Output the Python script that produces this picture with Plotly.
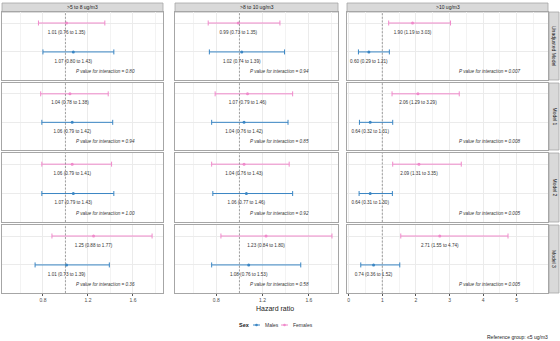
import plotly.graph_objects as go

# ---------------- data ----------------
columns = ["&gt;5 to 8 ug/m3", "&gt;8 to 10 ug/m3", "&gt;10 ug/m3"]
models = ["Unadjusted Model", "Model 1", "Model 2", "Model 3"]
sexes = ["Males", "Females"]

fem_hr = [[1.01, 1.04, 1.06, 1.25], [0.99, 1.07, 1.04, 1.23], [1.90, 2.06, 2.09, 2.71]]
fem_lo = [[0.76, 0.78, 0.79, 0.88], [0.73, 0.79, 0.76, 0.84], [1.19, 1.29, 1.31, 1.55]]
fem_hi = [[1.35, 1.38, 1.41, 1.77], [1.35, 1.46, 1.43, 1.80], [3.03, 3.29, 3.35, 4.74]]

male_hr = [[1.07, 1.06, 1.07, 1.01], [1.02, 1.04, 1.06, 1.08], [0.60, 0.64, 0.64, 0.74]]
male_lo = [[0.80, 0.79, 0.79, 0.73], [0.74, 0.76, 0.77, 0.76], [0.29, 0.32, 0.31, 0.36]]
male_hi = [[1.43, 1.42, 1.43, 1.39], [1.39, 1.42, 1.46, 1.53], [1.21, 1.31, 1.30, 1.52]]

p_vals = [["0.80", "0.94", "1.00", "0.36"],
          ["0.94", "0.85", "0.92", "0.58"],
          ["0.007", "0.008", "0.005", "0.005"]]

col_ticks = [[0.8, 1.2, 1.6], [0.8, 1.2, 1.6], [0, 1, 2, 3, 4, 5]]
col_ranges = [[0.436, 1.867], [0.443, 1.852], [-0.05, 5.93]]
col_minor = [0.2, 0.2, 0.5]

# ---------------- layout geometry (pixels) ----------------
W, H = 560, 341
col_px = [(2, 163), (175, 338), (347, 548)]
row_px = [(12, 80), (83, 150), (153, 222), (225, 293)]
MALE_C = "#3A86C4"
FEM_C = "#F08ACB"
FONT = "Liberation Sans, Arial, sans-serif"

def px_x(p):
    return p / W

def px_y(p):
    return 1 - p / H

fig = go.Figure()
layout = dict(
    width=W, height=H, margin=dict(l=0, r=0, t=0, b=0),
    paper_bgcolor="white", plot_bgcolor="white",
    font=dict(family=FONT, size=5, color="#333333"),
    showlegend=False,
)
shapes = []
annotations = []

for r in range(4):
    for c in range(3):
        k = r * 3 + c + 1
        xs = "" if k == 1 else str(k)
        xname, yname = "x" + xs, "y" + xs
        lo, hi = col_ranges[c]
        ticks = col_ticks[c]
        layout["xaxis" + xs] = dict(
            domain=[px_x(col_px[c][0]), px_x(col_px[c][1])],
            anchor=yname, range=[lo, hi],
            tickvals=ticks, ticktext=[("%g" % t) for t in ticks],
            showticklabels=(r == 3), ticks="outside" if r == 3 else "",
            ticklen=2, tickcolor="#555555", tickwidth=0.5,
            tickfont=dict(size=5, color="#4D4D4D"),
            showgrid=True, gridcolor="#EBEBEB", gridwidth=0.6,
            minor=dict(dtick=col_minor[c], tick0=0, showgrid=True, gridcolor="#F3F3F3", gridwidth=0.4),
            showline=True, mirror=True, linecolor="#A6A6A6", linewidth=0.8,
            zeroline=False, fixedrange=True,
        )
        layout["yaxis" + xs] = dict(
            domain=[px_y(row_px[r][1]), px_y(row_px[r][0])],
            anchor=xname, range=[0.03, 2.38],
            tickvals=[1, 2], showticklabels=False, ticks="",
            showgrid=True, gridcolor="#EBEBEB", gridwidth=0.6,
            showline=True, mirror=True, linecolor="#A6A6A6", linewidth=0.8,
            zeroline=False, fixedrange=True,
        )
        # reference line at HR = 1
        shapes.append(dict(type="line", xref=xname, yref=yname + " domain",
                           x0=1, x1=1, y0=0, y1=1,
                           line=dict(color="#666666", width=0.6, dash="2px,1.6px")))
        for sex, hr, lo_, hi_, yv, col in (
            ("Females", fem_hr, fem_lo, fem_hi, 2, FEM_C),
            ("Males", male_hr, male_lo, male_hi, 1, MALE_C),
        ):
            e = hr[c][r]
            l = lo_[c][r]
            h = hi_[c][r]
            fig.add_trace(go.Scatter(
                x=[e], y=[yv], xaxis=xname, yaxis=yname, mode="markers", name=sex,
                marker=dict(color=col, size=3),
                error_x=dict(type="data", symmetric=False, array=[h - e], arrayminus=[e - l],
                             color=col, thickness=1, width=2.5),
                showlegend=False, hoverinfo="skip",
            ))
            fig.add_trace(go.Scatter(
                x=[e], y=[yv - 0.33], xaxis=xname, yaxis=yname, mode="text",
                text=["%.2f (%.2f to %.2f)" % (e, l, h)],
                textfont=dict(size=4.6, color="#333333", family=FONT),
                textposition="middle center", showlegend=False, hoverinfo="skip",
            ))
        annotations.append(dict(
            xref=xname + " domain", yref=yname, x=0.64 if c < 2 else 0.71, y=0.33,
            text="<i>P value for interaction = %s</i>" % p_vals[c][r],
            showarrow=False, font=dict(size=4.6, color="#333333"),
            xanchor="center", yanchor="middle",
        ))

# column strips
for c in range(3):
    x0, x1 = col_px[c]
    shapes.append(dict(type="rect", xref="paper", yref="paper",
                       x0=px_x(x0), x1=px_x(x1), y0=px_y(12), y1=px_y(3),
                       fillcolor="#D9D9D9", line=dict(color="#A6A6A6", width=0.8), layer="below"))
    annotations.append(dict(xref="paper", yref="paper", x=px_x((x0 + x1) / 2), y=px_y(7.5),
                            text=columns[c], showarrow=False,
                            font=dict(size=5, color="#1A1A1A"),
                            xanchor="center", yanchor="middle"))
# row strips
for r in range(4):
    y0, y1 = row_px[r]
    shapes.append(dict(type="rect", xref="paper", yref="paper",
                       x0=px_x(549), x1=px_x(559), y0=px_y(y1), y1=px_y(y0),
                       fillcolor="#D9D9D9", line=dict(color="#A6A6A6", width=0.8), layer="below"))
    annotations.append(dict(xref="paper", yref="paper", x=px_x(554), y=px_y((y0 + y1) / 2),
                            text=models[r], showarrow=False, textangle=90,
                            font=dict(size=5, color="#1A1A1A"),
                            xanchor="center", yanchor="middle"))

annotations.append(dict(xref="paper", yref="paper", x=px_x(275), y=px_y(308),
                        text="Hazard ratio", showarrow=False,
                        font=dict(size=7, color="#222222"), xanchor="center", yanchor="middle"))
annotations.append(dict(xref="paper", yref="paper", x=px_x(550), y=px_y(337),
                        text="Reference group: \u22645 ug/m3", showarrow=False,
                        font=dict(size=5, color="#222222"), xanchor="right", yanchor="middle"))

# manual compact legend (layout elements in paper coordinates)
LY = 325
annotations.append(dict(xref="paper", yref="paper", x=px_x(237), y=px_y(LY),
                        text="<b>Sex</b>", showarrow=False,
                        font=dict(size=5.5, color="#222222"), xanchor="left", yanchor="middle"))
leg_pos = [(253, 260, 263), (281, 288, 291)]
for sex, col, (a, b, t) in zip(sexes, (MALE_C, FEM_C), leg_pos):
    shapes.append(dict(type="line", xref="paper", yref="paper",
                       x0=px_x(a), x1=px_x(b), y0=px_y(LY), y1=px_y(LY),
                       line=dict(color=col, width=1)))
    shapes.append(dict(type="circle", xref="paper", yref="paper",
                       x0=px_x((a + b) / 2 - 1.3), x1=px_x((a + b) / 2 + 1.3),
                       y0=px_y(LY + 1.3), y1=px_y(LY - 1.3),
                       fillcolor=col, line=dict(color=col, width=0)))
    annotations.append(dict(xref="paper", yref="paper", x=px_x(t), y=px_y(LY),
                            text=sex, showarrow=False,
                            font=dict(size=5, color="#333333"), xanchor="left", yanchor="middle"))

layout["shapes"] = shapes
layout["annotations"] = annotations
fig.update_layout(**layout)
fig.write_html("out.html")
